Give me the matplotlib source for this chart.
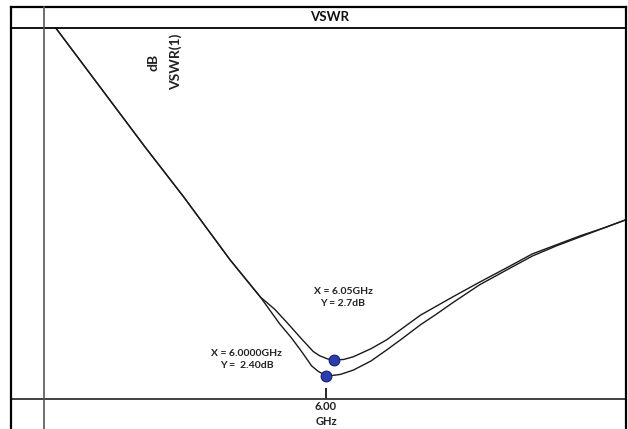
import matplotlib
matplotlib.use("Agg")
import matplotlib.pyplot as plt
from matplotlib.lines import Line2D

plt.rcParams['font.family'] = ['Lato', 'DejaVu Sans']

# Frequency (GHz) and VSWR (dB)
freq_a = [4.25, 4.31, 4.57, 4.87, 5.11, 5.40, 5.59, 5.65, 5.71, 5.78, 5.84, 5.88,
          5.91, 5.95, 5.98, 6.00, 6.04, 6.09, 6.13, 6.17, 6.28, 6.38, 6.48, 6.59,
          6.69, 6.79, 6.96, 7.13, 7.29, 7.44, 7.59, 7.74, 7.875]
vswr_a = [9.18, 8.93, 7.89, 6.69, 5.76, 4.58, 3.88, 3.63, 3.38, 3.13, 2.89, 2.72,
          2.59, 2.49, 2.44, 2.40, 2.41, 2.43, 2.47, 2.51, 2.68, 2.89, 3.11, 3.36,
          3.56, 3.77, 4.11, 4.39, 4.65, 4.84, 5.01, 5.18, 5.33]

freq_b = [4.25, 4.31, 4.57, 4.87, 5.11, 5.40, 5.59, 5.68, 5.76, 5.84, 5.92, 5.96,
          6.01, 6.05, 6.11, 6.17, 6.28, 6.38, 6.48, 6.59, 6.69, 6.79, 6.96, 7.13,
          7.29, 7.44, 7.59, 7.74, 7.875]
vswr_b = [9.18, 8.93, 7.89, 6.69, 5.76, 4.58, 3.88, 3.65, 3.39, 3.12, 2.86, 2.78,
          2.72, 2.70, 2.71, 2.76, 2.91, 3.08, 3.30, 3.54, 3.71, 3.88, 4.16, 4.43,
          4.69, 4.86, 5.03, 5.18, 5.33]

marker_x = [6.00, 6.05]
marker_y = [2.40, 2.70]
marker_labels = ["X = 6.0000GHz\nY =  2.40dB", "X = 6.05GHz\nY = 2.7dB"]

tick_vals = [6.00]
tick_labels = ["6.00\nGHz"]

W, H = 628, 429
fig = plt.figure(figsize=(W / 100, H / 100), dpi=100)
fig.patch.set_facecolor('white')

def fx(px):
    return px / W

def fy(py):
    return 1 - py / H

XMIN, XMAX = 4.2375, 7.875
ax = fig.add_axes([fx(44), fy(399), fx(626) - fx(44), fy(28) - fy(399)])
ax.set_xlim(XMIN, XMAX)
ax.set_ylim(1.969, 8.925)
for s in ax.spines.values():
    s.set_visible(False)
ax.set_yticks([])
ax.set_xticks(tick_vals)
ax.set_xticklabels([])
ax.tick_params(axis='x', direction='in', length=8, width=1.2, color='black')

ax.plot(freq_a, vswr_a, color='#1a1a1a', lw=1.0, solid_joinstyle='round',
        solid_capstyle='round')
ax.plot(freq_b, vswr_b, color='#1a1a1a', lw=1.0, solid_joinstyle='round',
        solid_capstyle='round')
ax.scatter(marker_x, marker_y, s=60, color='#2b3eb0', edgecolor='#1a2070',
           linewidth=0.8, zorder=5)

# marker annotations
ax.annotate(marker_labels[0], xy=(marker_x[0], marker_y[0]), xytext=(-57, 12),
            textcoords='offset points', ha='center', va='center', fontsize=7.5,
            color='#222222', linespacing=1.45, fontweight='bold')
ax.annotate(marker_labels[1], xy=(marker_x[1], marker_y[1]), xytext=(6.5, 45),
            textcoords='offset points', ha='center', va='center', fontsize=7.5,
            color='#222222', linespacing=1.45, fontweight='bold')

# tick label
for v, lab in zip(tick_vals, tick_labels):
    fig.text(fx(44) + (v - XMIN) / (XMAX - XMIN) * (fx(626) - fx(44)), fy(414),
             lab, ha='center', va='center', fontsize=8, color='#222222',
             linespacing=1.4, fontweight='bold')

# axis labels (rotated)
fig.text(fx(154), fy(62), "dB", rotation=90, ha='center', va='center',
         fontsize=10, color='#222222', fontweight='bold')
fig.text(fx(176), fy(62), "VSWR(1)", rotation=90, ha='center', va='center',
         fontsize=10, color='#222222', fontweight='bold')

# title
fig.text(fx(330), fy(17), "VSWR", ha='center', va='center', fontsize=9.5,
         color='#111111', fontweight='bold')

# frame lines
def hline(py, x0, x1, lw, c='black'):
    fig.add_artist(Line2D([fx(x0), fx(x1)], [fy(py), fy(py)], color=c, lw=lw,
                          transform=fig.transFigure))

def vline(px, y0, y1, lw, c='black'):
    fig.add_artist(Line2D([fx(px), fx(px)], [fy(y0), fy(y1)], color=c, lw=lw,
                          transform=fig.transFigure))

hline(7, 11, 626, 1.6)
hline(28, 11, 626, 1.3)
hline(399, 11, 626, 1.3, '#333333')
vline(11, 7, 429, 1.6)
vline(626, 7, 429, 1.6)
vline(44, 7, 429, 1.2, '#555555')

fig.savefig("out.png", dpi=100)
